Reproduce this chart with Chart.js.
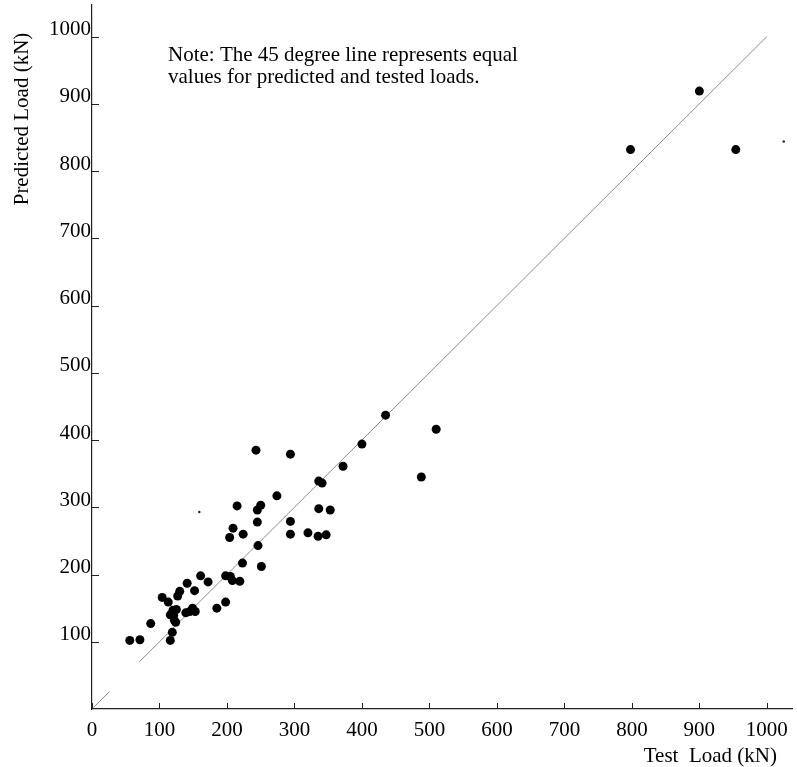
<!DOCTYPE html>
<html>
<head>
<meta charset="utf-8">
<script src="https://cdn.jsdelivr.net/npm/chart.js@4.4.1/dist/chart.umd.min.js"></script>
<style>
  html, body { margin: 0; padding: 0; background: #fff; }
  #wrap { width: 797px; height: 767px; position: relative; }
</style>
</head>
<body>
<div id="wrap"><canvas id="chart"></canvas></div>
<script>
// measured test loads vs predicted loads (kN)
const testLoad = [
  246, 223, 251, 161, 172, 198, 205, 208, 219, 141,
  152, 130, 127, 104, 113, 198, 185, 120, 125, 116,
  121, 122, 124, 139, 145, 149, 153, 87, 119, 116,
  56, 71,
  243, 294, 400, 372, 336, 341, 274, 215, 250, 245,
  336, 353, 294, 245, 209, 204, 224, 294, 320, 335,
  347,
  435, 510, 488,
  900, 798, 954
];
const predictedLoad = [
  243, 217, 212, 198, 189, 198, 197, 191, 190, 187,
  176, 175, 168, 166, 159, 159, 150, 147, 148, 140,
  139, 132, 129, 143, 145, 150, 145, 127, 114, 102,
  102, 103,
  385, 379, 394, 361, 339, 336, 317, 302, 303, 296,
  298, 296, 279, 278, 269, 255, 260, 260, 262, 257,
  259,
  437, 416, 345,
  919, 832, 832
];

// 45 degree line (faint start, gap, then the main run)
const lineX = [2, 26, 48, 70, 1000];
const lineY = [2, 26, null, 70, 1000];

// small marks on the scanned page
const speckX = [1025, 159];
const speckY = [844, 293];

const xTicks = [0, 100, 200, 300, 400, 500, 600, 700, 800, 900, 1000];
const yTicks = [100, 200, 300, 400, 500, 600, 700, 800, 900, 1000];

const xTitle = 'Test  Load (kN)';
const yTitle = 'Predicted Load (kN)';
const noteLines = [
  'Note: The 45 degree line represents equal',
  'values for predicted and tested loads.'
];

const serif = '"Liberation Serif", "Times New Roman", serif';

const points = testLoad.map((x, i) => ({ x: x, y: predictedLoad[i] }));
const linePts = lineX.map((x, i) => ({ x: x, y: lineY[i] }));
const specks = speckX.map((x, i) => ({ x: x, y: speckY[i] }));

// inward tick marks, axis titles and the note
const decor = {
  id: 'decor',
  afterDraw(chart) {
    const { ctx, chartArea } = chart;
    const x = chart.scales.x, y = chart.scales.y;
    ctx.save();
    ctx.strokeStyle = '#222';
    ctx.lineWidth = 1;
    xTicks.forEach(v => {
      const px = Math.round(x.getPixelForValue(v)) + 0.5;
      ctx.beginPath();
      ctx.moveTo(px, chartArea.bottom);
      ctx.lineTo(px, chartArea.bottom - 6);
      ctx.stroke();
    });
    yTicks.forEach(v => {
      const py = Math.round(y.getPixelForValue(v)) + 0.5;
      ctx.beginPath();
      ctx.moveTo(chartArea.left, py);
      ctx.lineTo(chartArea.left + 7, py);
      ctx.stroke();
    });

    ctx.fillStyle = '#000';
    ctx.font = '21px ' + serif;
    ctx.textBaseline = 'alphabetic';
    ctx.textAlign = 'left';
    noteLines.forEach((t, i) => ctx.fillText(t, 168, 61 + i * 22));

    ctx.textAlign = 'right';
    ctx.fillText(xTitle, 777, 762);

    ctx.translate(28, 119);
    ctx.rotate(-Math.PI / 2);
    ctx.textAlign = 'center';
    ctx.fillText(yTitle, 0, 0);
    ctx.restore();
  }
};

new Chart(document.getElementById('chart'), {
  type: 'scatter',
  data: {
    datasets: [
      {
        data: points,
        backgroundColor: '#000',
        borderWidth: 0,
        pointRadius: 4.5
      },
      {
        data: linePts,
        showLine: true,
        spanGaps: false,
        borderColor: '#8c8c8c',
        borderWidth: 1,
        pointRadius: 0
      },
      {
        data: specks,
        backgroundColor: '#333',
        borderWidth: 0,
        pointRadius: 1.3
      }
    ]
  },
  options: {
    responsive: true,
    maintainAspectRatio: false,
    animation: false,
    layout: { padding: { top: 5, right: 0, left: 0, bottom: 0 } },
    plugins: {
      legend: { display: false },
      tooltip: { enabled: false }
    },
    scales: {
      x: {
        type: 'linear',
        min: 0,
        max: 1038,
        grid: { display: false, drawTicks: false },
        border: { display: true, color: '#222', width: 1.2 },
        ticks: {
          stepSize: 100,
          includeBounds: false,
          autoSkip: false,
          maxRotation: 0,
          padding: 9,
          color: '#000',
          font: { family: serif, size: 21 },
          callback: v => String(v)
        },
        afterFit(scale) {
          scale.height = 58;
          scale.paddingLeft = 0;
          scale.paddingRight = 0;
        }
      },
      y: {
        type: 'linear',
        min: 0,
        max: 1047,
        grid: { display: false, drawTicks: false },
        border: { display: true, color: '#222', width: 1.2 },
        ticks: {
          stepSize: 100,
          includeBounds: false,
          autoSkip: false,
          padding: 1,
          labelOffset: -7,
          color: '#000',
          font: { family: serif, size: 21 },
          callback: v => (v === 0 ? '' : String(v))
        },
        afterFit(scale) {
          scale.width = 92;
          scale.paddingTop = 0;
          scale.paddingBottom = 0;
        }
      }
    }
  },
  plugins: [decor]
});
</script>
</body>
</html>
